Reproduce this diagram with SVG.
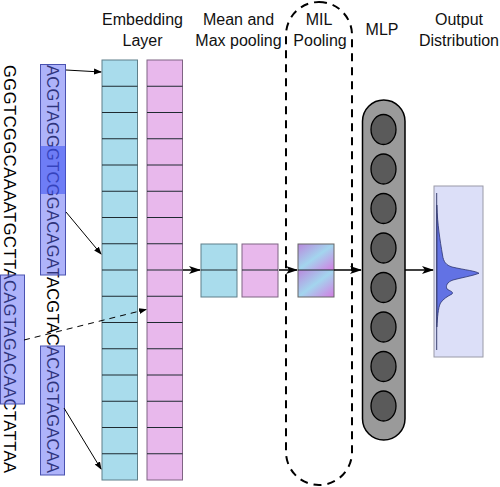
<svg xmlns="http://www.w3.org/2000/svg" width="500" height="487" viewBox="0 0 500 487">
<defs>
<style>
.lbl{font-family:"Liberation Sans",Arial,sans-serif;font-size:16px;fill:#111;text-anchor:middle}
.seq{font-family:"Liberation Sans",Arial,sans-serif;font-size:16.5px;fill:#000}
.cy{fill:#a9dcec;stroke:#5f7f8a;stroke-width:1}
.pk{fill:#e8b8ec;stroke:#7f6483;stroke-width:1}
.div{stroke:#1e2a30;stroke-width:1}
.hl{fill:#5d68f5;fill-opacity:0.5;stroke:#4a52b0;stroke-width:1}
.arr{stroke:#000;stroke-width:1;fill:none;marker-end:url(#ah)}
.arr2{stroke:#000;stroke-width:1.5;fill:none;marker-end:url(#ah2)}
.neuron{fill:#5a5a5a;stroke:#000;stroke-width:1.3}
</style>
<marker id="ah" markerWidth="8" markerHeight="8" refX="7" refY="4" orient="auto" markerUnits="userSpaceOnUse">
<path d="M0,1 L8,4 L0,7 z" fill="#000"/>
</marker>
<marker id="ah2" markerWidth="12" markerHeight="10" refX="11" refY="5" orient="auto" markerUnits="userSpaceOnUse">
<path d="M0,1 L12,5 L0,9 L3,5 z" fill="#000"/>
</marker>
<linearGradient id="mil" x1="0" y1="0" x2="1" y2="1">
<stop offset="0" stop-color="#b988dd"/>
<stop offset="0.5" stop-color="#a3d5ee"/>
<stop offset="1" stop-color="#d47ce2"/>
</linearGradient>
</defs>

<g id="titles">
<text class="lbl" x="142.5" y="25">Embedding</text>
<text class="lbl" x="142.5" y="46">Layer</text>
<text class="lbl" x="238.5" y="25">Mean and</text>
<text class="lbl" x="238.5" y="46">Max pooling</text>
<text class="lbl" x="319" y="25">MIL</text>
<text class="lbl" x="320" y="46">Pooling</text>
<text class="lbl" x="382" y="35">MLP</text>
<text class="lbl" x="459" y="25">Output</text>
<text class="lbl" x="459" y="46">Distribution</text>
</g>

<g id="sequences">
<text class="seq" transform="translate(3.5,65) rotate(90)" textLength="408" lengthAdjust="spacing">GGGTCGGCAAAATGCTTACAGTAGACAACTATTAA</text>
<text class="seq" transform="translate(47,65) rotate(90)" textLength="408" lengthAdjust="spacing">ACGTAGGGTCGGACAGATACGTACACAGTAGACAA</text>
<rect class="hl" x="40.5" y="64.5" width="25" height="210.5"/>
<rect x="40.5" y="146" width="25" height="48" fill="#3a50f2" fill-opacity="0.55"/>
<rect class="hl" x="0.5" y="275" width="24" height="129"/>
<rect class="hl" x="40.5" y="346" width="24" height="129"/>
</g>

<g id="embedding-cyan">
<rect class="cy" x="102" y="60" width="35.5" height="420"/>
<path class="div" d="M102,86.25h35.5M102,112.5h35.5M102,138.75h35.5M102,165h35.5M102,191.25h35.5M102,217.5h35.5M102,243.75h35.5M102,270h35.5M102,296.25h35.5M102,322.5h35.5M102,348.75h35.5M102,375h35.5M102,401.25h35.5M102,427.5h35.5M102,453.75h35.5"/>
</g>
<g id="embedding-pink">
<rect class="pk" x="147" y="60" width="35.5" height="420"/>
<path class="div" d="M147,86.25h35.5M147,112.5h35.5M147,138.75h35.5M147,165h35.5M147,191.25h35.5M147,217.5h35.5M147,243.75h35.5M147,270h35.5M147,296.25h35.5M147,322.5h35.5M147,348.75h35.5M147,375h35.5M147,401.25h35.5M147,427.5h35.5M147,453.75h35.5"/>
</g>

<g id="mean-pool">
<rect class="cy" x="201" y="244" width="36" height="53"/>
<line class="div" x1="201" y1="270" x2="237" y2="270"/>
</g>
<g id="max-pool">
<rect class="pk" x="242" y="244" width="36" height="53"/>
<line class="div" x1="242" y1="270" x2="278" y2="270"/>
</g>

<g id="mil-pooling">
<rect x="286" y="2" width="66" height="483" rx="33" ry="33" fill="none" stroke="#000" stroke-width="2" stroke-dasharray="8,6"/>
<rect x="298" y="244" width="36" height="26" fill="url(#mil)" stroke="none"/>
<rect x="298" y="270" width="36" height="27" fill="url(#mil)" stroke="none"/>
<rect x="298" y="244" width="36" height="53" fill="none" stroke="#666" stroke-width="1"/>
<line class="div" x1="298" y1="270" x2="334" y2="270"/>
</g>

<g id="mlp">
<rect x="362.5" y="100" width="42.5" height="340" rx="21.25" ry="21.25" fill="#9a9a9a" stroke="#000" stroke-width="1.5"/>
<ellipse class="neuron" cx="383.5" cy="129.5" rx="12.5" ry="15"/>
<ellipse class="neuron" cx="383.5" cy="169" rx="12.5" ry="15"/>
<ellipse class="neuron" cx="383.5" cy="208.5" rx="12.5" ry="15"/>
<ellipse class="neuron" cx="383.5" cy="248" rx="12.5" ry="15"/>
<ellipse class="neuron" cx="383.5" cy="287.5" rx="12.5" ry="15"/>
<ellipse class="neuron" cx="383.5" cy="327" rx="12.5" ry="15"/>
<ellipse class="neuron" cx="383.5" cy="366.5" rx="12.5" ry="15"/>
<ellipse class="neuron" cx="383.5" cy="406" rx="12.5" ry="15"/>
</g>

<g id="output">
<rect x="434" y="186" width="49" height="171" fill="#dcdff8" stroke="#9a9aa8" stroke-width="1"/>
<path d="M436.8,205 C437.5,225 440,240 442.5,255 C443.5,262 446,265 452,267 C465,270 476,271 479,273.3 C472,276 460,278 453,280 C447,282 445.5,286 447,289 C450,291 454,292 452,294 C448,296 443,299 440.5,303 C438,308 437.5,318 436.8,327 Z" fill="#6272e4" stroke="#2c3470" stroke-width="0.8"/>
<line x1="436.7" y1="193" x2="436.7" y2="350" stroke="#3a4270" stroke-width="1"/>
</g>

<g id="connectors">
<line class="arr" x1="66" y1="70" x2="101" y2="72"/>
<line class="arr" x1="66" y1="212" x2="101" y2="254"/>
<line class="arr" x1="24" y1="340" x2="146" y2="309.5" stroke-dasharray="6,5"/>
<line class="arr" x1="64" y1="408" x2="101" y2="469"/>
<line class="arr2" x1="183" y1="270" x2="200" y2="270"/>
<line class="arr2" x1="279" y1="270" x2="297" y2="270"/>
<line class="arr2" x1="334" y1="270" x2="361" y2="270"/>
<line class="arr2" x1="405" y1="270" x2="433" y2="270"/>
</g>
</svg>
